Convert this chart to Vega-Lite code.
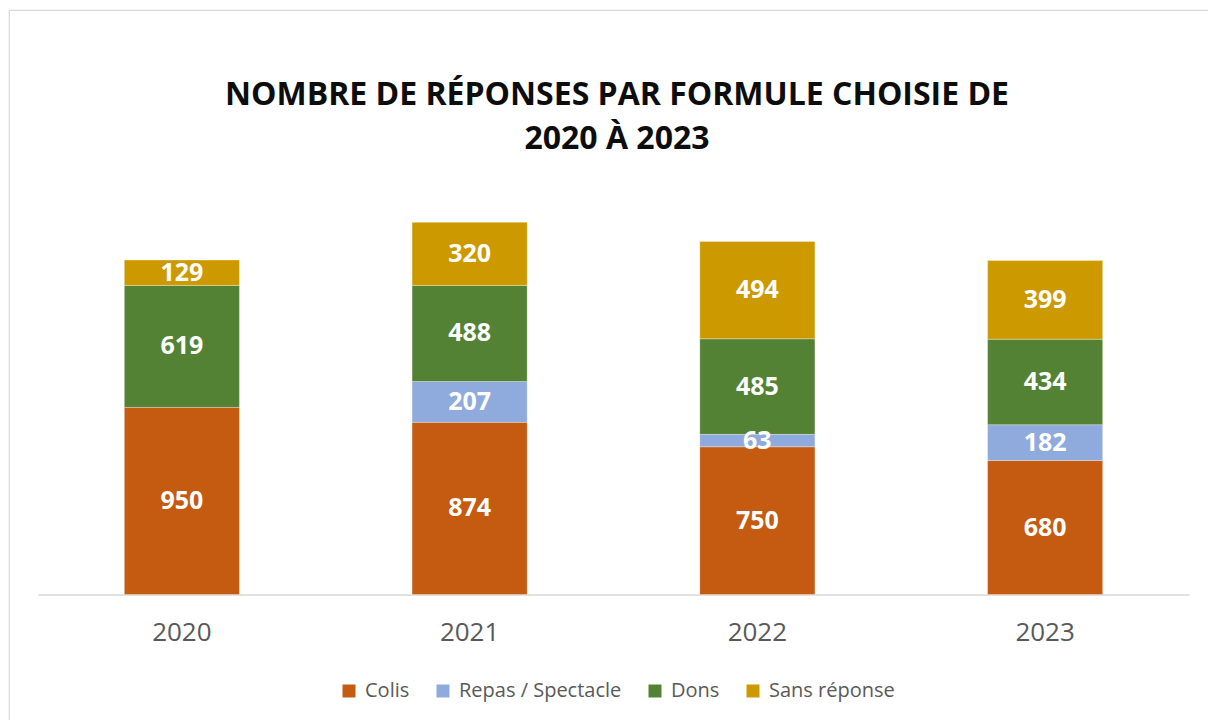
{
  "$schema": "https://vega.github.io/schema/vega-lite/v6.json",
  "autosize": {"type": "none"},
  "padding": {"left": 9, "top": 10, "right": 0, "bottom": 0},
  "width": 1216,
  "height": 760,
  "background": "white",
  "title": {
    "text": ["NOMBRE DE RÉPONSES PAR FORMULE CHOISIE DE", "2020 À 2023"],
    "font": "Open Sans",
    "fontSize": 32,
    "fontWeight": "bold",
    "color": "#0d0d0d",
    "anchor": "middle",
    "frame": "group",
    "offset": -146,
    "lineHeight": 44
  },
  "data": {
    "values": [
      {"year": "2020", "formule": "Colis", "n": 950},
      {"year": "2020", "formule": "Dons", "n": 619},
      {"year": "2020", "formule": "Sans réponse", "n": 129},
      {"year": "2021", "formule": "Colis", "n": 874},
      {"year": "2021", "formule": "Repas / Spectacle", "n": 207},
      {"year": "2021", "formule": "Dons", "n": 488},
      {"year": "2021", "formule": "Sans réponse", "n": 320},
      {"year": "2022", "formule": "Colis", "n": 750},
      {"year": "2022", "formule": "Repas / Spectacle", "n": 63},
      {"year": "2022", "formule": "Dons", "n": 485},
      {"year": "2022", "formule": "Sans réponse", "n": 494},
      {"year": "2023", "formule": "Colis", "n": 680},
      {"year": "2023", "formule": "Repas / Spectacle", "n": 182},
      {"year": "2023", "formule": "Dons", "n": 434},
      {"year": "2023", "formule": "Sans réponse", "n": 399}
    ]
  },
  "transform": [
    {"stack": "n", "groupby": ["year"], "as": ["v0", "v1"]}
  ],
  "layer": [
    {
      "mark": {"type": "bar", "stroke": "#ffffff", "strokeWidth": 0.6, "strokeOpacity": 0.5},
      "encoding": {
        "x": {
          "field": "year",
          "type": "nominal",
          "scale": {"range": [29, 1180], "paddingInner": 0.6, "paddingOuter": 0.3},
          "axis": {
            "title": null,
            "labelAngle": 0,
            "labelFont": "Open Sans",
            "labelFontSize": 26,
            "labelColor": "#595959",
            "ticks": false,
            "tickSize": 0,
            "grid": false,
            "domainColor": "#d9d9d9",
            "domainWidth": 1.5,
            "offset": -175.5,
            "labelBaseline": "middle",
            "labelPadding": 37.5
          }
        },
        "y": {
          "field": "v0",
          "type": "quantitative",
          "scale": {"domain": [0, 2000], "range": [584.5, 190.5], "nice": false, "zero": true},
          "axis": null
        },
        "y2": {"field": "v1"},
        "color": {
          "field": "formule",
          "type": "nominal",
          "scale": {
            "domain": ["Colis", "Repas / Spectacle", "Dons", "Sans réponse"],
            "range": ["#C55A11", "#8FAADC", "#548235", "#CC9A00"]
          },
          "legend": {
            "orient": "none",
            "legendX": 330,
            "legendY": 671,
            "direction": "horizontal",
            "columns": 4,
            "title": null,
            "symbolType": "square",
            "symbolSize": 169,
            "symbolStrokeWidth": 0,
            "labelFont": "Open Sans",
            "labelFontSize": 20,
            "labelColor": "#595959",
            "labelOffset": 6,
            "columnPadding": 23,
            "labelLimit": 300
          }
        }
      }
    },
    {
      "transform": [{"fold": ["v0", "v1"], "as": ["edge", "pos"]}],
      "mark": {"type": "text", "font": "Open Sans", "fontSize": 25, "fontWeight": "bold", "color": "#ffffff", "baseline": "middle", "align": "center"},
      "encoding": {
        "x": {"field": "year", "type": "nominal"},
        "y": {"aggregate": "mean", "field": "pos", "type": "quantitative", "axis": null},
        "text": {"field": "n", "type": "quantitative"},
        "detail": {"field": "formule"}
      }
    }
  ],
  "config": {
    "font": "Open Sans",
    "view": {"stroke": "#d9d9d9", "strokeWidth": 1.2}
  }
}
